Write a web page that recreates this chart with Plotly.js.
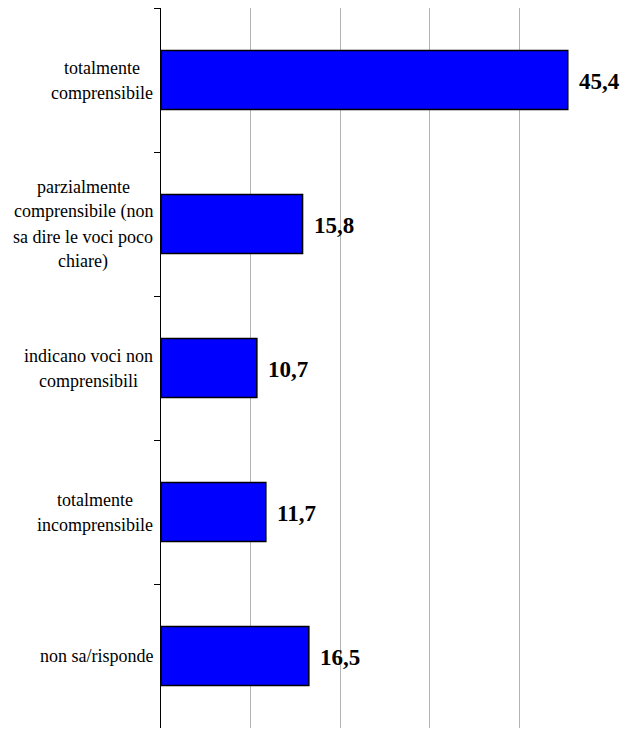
<!DOCTYPE html>
<html>
<head>
<meta charset="utf-8">
<script src="https://cdn.plot.ly/plotly-3.0.1.min.js"></script>
<style>html,body{margin:0;padding:0;background:#fff;}#chart{width:622px;height:729px;}</style>
</head>
<body>
<div id="chart"></div>
<script>
const categories = [
  "totalmente<br>comprensibile",
  "parzialmente<br>comprensibile (non<br>sa dire le voci poco<br>chiare)",
  "indicano voci non<br>comprensibili",
  "totalmente<br>incomprensibile",
  "non sa/risponde"
];
const values = [45.4, 15.8, 10.7, 11.7, 16.5];
const valueLabels = ["45,4", "15,8", "10,7", "11,7", "16,5"];
const xTicks = [0, 10, 20, 30, 40, 50];

const labelFont = 'Liberation Serif';
const labelSize = 18;
const lineGap = 25;

const canvas = document.createElement('canvas');
const ctx = canvas.getContext('2d');
ctx.font = labelSize + 'px "Liberation Serif"';

const annotations = [];
categories.forEach((cat, i) => {
  const lines = cat.split('<br>');
  const blockW = Math.max(...lines.map(l => ctx.measureText(l).width));
  const n = lines.length;
  lines.forEach((line, j) => {
    annotations.push({
      xref: 'paper', yref: 'y', x: 0, y: cat,
      text: line, showarrow: false,
      xanchor: 'center', yanchor: 'middle',
      xshift: -8 - blockW / 2,
      yshift: ((n - 1) / 2 - j) * lineGap,
      font: {family: labelFont, size: labelSize, color: '#000'}
    });
  });
  annotations.push({
    xref: 'x', yref: 'y', x: values[i], y: cat,
    text: '<b>' + valueLabels[i] + '</b>', showarrow: false,
    xanchor: 'left', yanchor: 'middle', xshift: 9, yshift: -1,
    font: {family: labelFont, size: 23, color: '#000'}
  });
});

const trace = {
  type: 'bar', orientation: 'h',
  x: values, y: categories,
  width: 0.41,
  marker: {color: '#0000FF', line: {color: '#000', width: 1.5}},
  hoverinfo: 'none'
};

const layout = {
  width: 622, height: 729,
  margin: {l: 161, r: 13, t: 8, b: 1},
  paper_bgcolor: '#fff', plot_bgcolor: '#fff',
  showlegend: false,
  font: {family: labelFont},
  xaxis: {
    range: [0, 50], tickvals: xTicks, showticklabels: false,
    showgrid: true, gridcolor: '#b3b3b3', gridwidth: 1,
    zeroline: false, showline: false, ticks: ''
  },
  yaxis: {
    type: 'category', autorange: 'reversed',
    showticklabels: false, showgrid: false, zeroline: false,
    showline: true, linecolor: '#000', linewidth: 1,
    ticks: 'outside', tickson: 'boundaries', ticklen: 6, tickcolor: '#000', tickwidth: 1
  },
  annotations: annotations
};

Plotly.newPlot('chart', [trace], layout, {displayModeBar: false, staticPlot: true});
</script>
</body>
</html>
